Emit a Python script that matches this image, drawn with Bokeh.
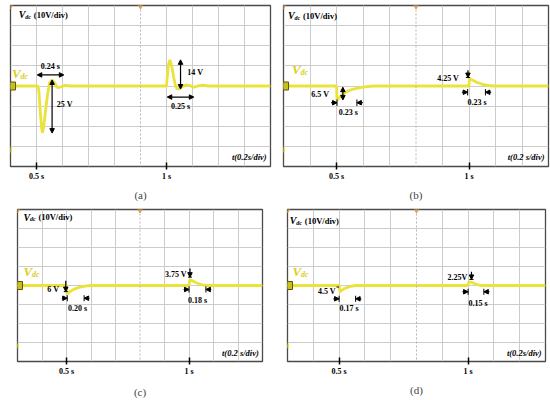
import numpy as np
from bokeh.plotting import figure
from bokeh.models import Arrow, NormalHead, FixedTicker, Range1d, Span
from bokeh.layouts import row, column
from bokeh.core.properties import value
from bokeh.embed import file_html
from bokeh.resources import INLINE

# ---------------- data ----------------
# time in s, Vdc deviation in V (10 V/div)
ta = [0.40, 0.505, 0.509, 0.514, 0.520, 0.523, 0.528, 0.535, 0.543, 0.550, 0.560, 0.570, 0.580, 0.592, 0.610, 0.630,
      1.000, 1.004, 1.008, 1.013, 1.020, 1.028, 1.036, 1.042, 1.050, 1.060, 1.075, 1.090, 1.105, 1.120, 1.140, 1.160, 1.40]
va = [0, 0, -2, -12, -21, -23.3, -20, -12, -4, 1.5, 3, 1.5, -0.8, -0.5, 0.3, 0,
      0, 6, 11, 13, 10, 4, -0.5, -1.6, -1.3, -0.3, 0.5, 0.2, -0.6, 0, 0.4, 0, 0]

tb = [0.30, 0.500, 0.502, 0.510, 0.526, 0.545, 0.564, 0.590, 0.615, 0.640,
      1.000, 1.002, 1.015, 1.030, 1.045, 1.060, 1.075, 1.090, 1.30]
vb = [0, 0, -7.0, -5.8, -3.8, -2.4, -1.5, -0.8, -0.35, 0,
      0, 3.8, 2.8, 1.8, 1.1, 0.6, 0.25, 0, 0]

tc = [0.30, 0.500, 0.503, 0.510, 0.524, 0.540, 0.555, 0.575, 0.600,
      1.000, 1.003, 1.012, 1.025, 1.040, 1.055, 1.070, 1.30]
vc = [0, 0, -4.4, -3.6, -2.4, -1.5, -0.9, -0.35, 0,
      0, 3.0, 2.6, 1.7, 0.9, 0.35, 0, 0]

td = [0.30, 0.500, 0.503, 0.510, 0.520, 0.530, 0.540, 0.550, 0.565,
      1.000, 1.003, 1.010, 1.020, 1.030, 1.040, 1.050, 1.30]
vd = [0, 0, -3.3, -2.6, -1.7, -1.1, -0.6, -0.3, 0,
      0, 1.9, 1.8, 1.3, 0.8, 0.35, 0, 0]

tick_values = [0.5, 1]
tick_labels = ["0.5 s", "1 s"]
captions = ["(a)", "(b)", "(c)", "(d)"]
time_scales = ["t(0.2s/div)", "t(0.2 s/div)", "t(0.2 s/div)", "t(0.2s/div)"]

# ---------------- styling ----------------
SERIF = "Liberation Serif"
TRACE = "#ebe33c"
VDC_COL = "#d9cf1c"
GRID = "#cccccc"


def make_panel(t, v, xmin, w, h, bl, br, bt, bb, caption, scale_text, cap_standoff=5):
    p = figure(width=w, height=h, output_backend="svg", toolbar_location=None,
               x_range=Range1d(xmin, xmin + 1.0), y_range=Range1d(-40, 40),
               min_border_left=bl, min_border_right=br, min_border_top=bt, min_border_bottom=bb,
               background_fill_color="white", border_fill_color="white")
    p.yaxis.visible = False
    p.outline_line_color = "#4a4a4a"
    p.outline_line_width = 1.3
    xt = [round(xmin + 0.1 * k, 3) for k in range(11) if k != 5]
    p.xgrid.ticker = FixedTicker(ticks=xt)
    p.ygrid.ticker = FixedTicker(ticks=list(range(-40, 41, 10)))
    p.xgrid.grid_line_color = GRID
    p.ygrid.grid_line_color = GRID
    p.xgrid.grid_line_width = 1
    p.ygrid.grid_line_width = 1
    p.add_layout(Span(location=xmin + 0.5, dimension="height", line_color="#b5b5b5",
                      line_width=1, line_dash="2 2"))

    ax = p.xaxis[0]
    ax.ticker = FixedTicker(ticks=tick_values)
    ax.major_label_overrides = {k: s for k, s in zip(tick_values, tick_labels)}
    ax.minor_tick_line_color = None
    ax.axis_line_color = None
    ax.major_tick_line_color = "black"
    ax.major_tick_line_width = 1.5
    ax.major_tick_in = 4
    ax.major_tick_out = 3
    ax.major_label_standoff = 2
    ax.major_label_text_font = SERIF
    ax.major_label_text_font_style = "bold"
    ax.major_label_text_font_size = "8px"
    ax.major_label_text_color = "black"
    ax.axis_label = caption
    ax.axis_label_text_font = SERIF
    ax.axis_label_text_font_style = "normal"
    ax.axis_label_text_font_size = "11px"
    ax.axis_label_standoff = cap_standoff

    # trace
    p.line(t, v, line_color=TRACE, line_width=2.8)

    # scope decorations
    p.scatter([xmin, xmin + 0.5], [40, 40], marker="inverted_triangle", size=6,
              fill_color="#e39a3a", line_color="#e39a3a")
    p.scatter([xmin + 0.004], [0], marker="square", size=8, fill_color="#c9bf1e", line_color="#5c5600")
    p.segment([xmin + 0.002], [-33], [xmin + 0.002], [-30.5], line_color=TRACE, line_width=2)

    # scale text at bottom right
    p.text([xmin + 0.985], [-35.5], text=[scale_text], text_font=value(SERIF),
           text_font_style="bold italic", text_font_size="8.5px", text_align="right",
           text_baseline="middle", text_color="black")
    return p


def top_label(p, x, y):
    p.text([x], [y], text=["V"], text_font=value(SERIF), text_font_style="bold italic",
           text_font_size="10px", text_baseline="middle", text_color="black")
    p.text([x], [y], text=["dc"], x_offset=6.5, y_offset=2, text_font=value(SERIF),
           text_font_style="bold italic", text_font_size="6px", text_baseline="middle", text_color="black")
    p.text([x], [y], text=["(10V/div)"], x_offset=15, text_font=value(SERIF),
           text_font_style="bold", text_font_size="8.5px", text_baseline="middle", text_color="black")


def vdc_label(p, x, y):
    p.text([x], [y], text=["V"], text_font=value(SERIF), text_font_style="bold italic",
           text_font_size="13px", text_baseline="middle", text_color=VDC_COL)
    p.text([x], [y], text=["dc"], x_offset=8.5, y_offset=3, text_font=value(SERIF),
           text_font_style="bold italic", text_font_size="8px", text_baseline="middle", text_color=VDC_COL)


def note(p, x, y, s, align="center", size="8px"):
    p.text([x], [y], text=[s], text_font=value(SERIF), text_font_style="bold",
           text_font_size=size, text_align=align, text_baseline="middle", text_color="black")


def head():
    return NormalHead(size=4.5, fill_color="black", line_color="black")


def arrow2(p, x0, y0, x1, y1):
    p.add_layout(Arrow(start=head(), end=head(), x_start=x0, y_start=y0, x_end=x1, y_end=y1,
                       line_color="black", line_width=1.2))


def arrow1(p, x0, y0, x1, y1):
    p.add_layout(Arrow(start=None, end=head(), x_start=x0, y_start=y0, x_end=x1, y_end=y1,
                       line_color="black", line_width=1.2))


def interval(p, xa, xb, y, L=0.022, hb=1.6):
    arrow1(p, xa - L, y, xa, y)
    arrow1(p, xb + L, y, xb, y)
    p.segment([xa, xb], [y - hb, y - hb], [xa, xb], [y + hb, y + hb], line_color="black", line_width=1)


def down_mark(p, x, y0, y1, w=0.008):
    arrow1(p, x, y0, x, y1)
    p.segment([x - w], [y1], [x + w], [y1], line_color="black", line_width=1)


# ---------------- panel (a) ----------------
pa = make_panel(ta, va, 0.4, 275, 203, 10, 5, 5, 37, captions[0], time_scales[0])
top_label(pa, 0.432, 35.5)
vdc_label(pa, 0.406, 6)
arrow2(pa, 0.503, 5.5, 0.605, 5.5)
note(pa, 0.553, 9.5, "0.24 s")
arrow2(pa, 0.560, 3, 0.560, -23.4)
note(pa, 0.578, -9, "25 V", align="left")
arrow2(pa, 1.054, 13, 1.054, -1.5)
note(pa, 1.080, 6.5, "14 V", align="left")
arrow2(pa, 1.003, -5.5, 1.105, -5.5)
note(pa, 1.054, -10.2, "0.25 s")

# ---------------- panel (b) ----------------
pb = make_panel(tb, vb, 0.3, 275, 203, 8, 2, 5, 35, captions[1], time_scales[1])
top_label(pb, 0.317, 34.8)
vdc_label(pb, 0.332, 8.3)
arrow2(pb, 0.524, -0.6, 0.524, -6.9)
note(pb, 0.472, -4.3, "6.5 V", align="right")
interval(pb, 0.502, 0.577, -8.3)
note(pb, 0.545, -13.0, "0.23 s")
down_mark(pb, 0.996, 7.8, 4.2)
note(pb, 0.962, 3.8, "4.25 V", align="right")
interval(pb, 0.995, 1.062, -3.1)
note(pb, 1.030, -8.2, "0.23 s")

# ---------------- panel (c) ----------------
pc = make_panel(tc, vc, 0.3, 275, 197, 17, 13, 6, 38, captions[2], time_scales[2], cap_standoff=7)
top_label(pc, 0.324, 36)
vdc_label(pc, 0.324, 7.6)
down_mark(pc, 0.497, 2.5, -3.2)
note(pc, 0.470, -2.0, "6 V", align="right")
interval(pc, 0.503, 0.572, -6.7)
note(pc, 0.545, -12.3, "0.20 s")
down_mark(pc, 1.004, 9.0, 4.4)
note(pc, 0.991, 5.8, "3.75 V", align="right")
interval(pc, 1.000, 1.069, -2.1)
note(pc, 1.035, -7.8, "0.18 s")

# ---------------- panel (d) ----------------
pd = make_panel(td, vd, 0.3, 275, 197, 12, 5, 1, 37, captions[3], time_scales[3])
top_label(pd, 0.309, 34)
vdc_label(pd, 0.319, 7.2)
note(pd, 0.487, -3.3, "4.5 V", align="right")
pd.segment([0.490], [-0.8], [0.500], [-0.8], line_color="black", line_width=1)
interval(pd, 0.500, 0.564, -7.0)
note(pd, 0.539, -12.1, "0.17 s")
down_mark(pd, 1.013, 7.2, 3.2)
note(pd, 0.997, 4.4, "2.25V", align="right")
interval(pd, 1.000, 1.061, -3.3)
note(pd, 1.039, -9.5, "0.15 s")

layout = column(row(pa, pb), row(pc, pd))
open("out.html", "w").write(file_html(layout, INLINE))
